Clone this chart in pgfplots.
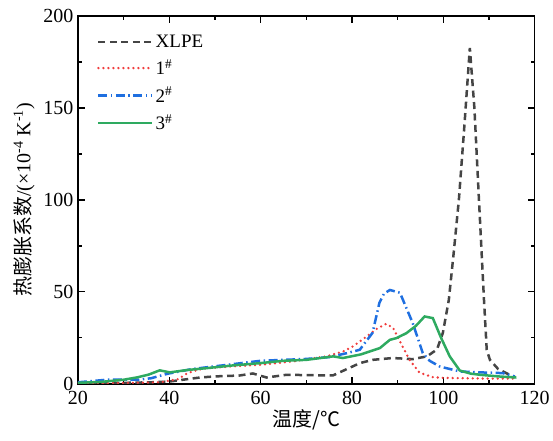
\documentclass[border=0pt]{standalone}
\usepackage{pgfplots}
\pgfplotsset{compat=1.18}
\usepackage{fontspec}
\setmainfont{Liberation Serif}
\newfontfamily\cjk{Noto Sans CJK SC}
\newfontfamily\tnr{Liberation Serif}
\definecolor{cx}{HTML}{454545}
\definecolor{c1}{HTML}{F03C3C}
\definecolor{c2}{HTML}{1F6FE0}
\definecolor{c3}{HTML}{2EAA60}
\begin{document}
\begin{tikzpicture}
\begin{axis}[
  width=457pt, height=368pt, scale only axis,
  xmin=20, xmax=120, ymin=0, ymax=200,
  xtick={20,40,...,120}, ytick={0,50,...,200},
  xticklabels={\textrm{20},\textrm{40},\textrm{60},\textrm{80},\textrm{100},\textrm{120}},
  yticklabels={\textrm{0},\textrm{50},\textrm{100},\textrm{150},\textrm{200}},
  minor xtick={30,50,...,110}, minor ytick={25,75,125,175},
  tick align=inside,
  major tick length=7pt, minor tick length=4pt,
  every tick/.style={black, line width=1.3pt},
  axis line style={line width=1.6pt},
  tick label style={font=\tnr\fontsize{20}{22}\selectfont},
  xticklabel style={yshift=-4pt},
  yticklabel style={xshift=-1pt},
  xlabel={\cjk\fontsize{20}{22}\selectfont 温度/℃},
  ylabel={\fontsize{20}{22}\selectfont{\cjk 热膨胀系数}/(×10\textsuperscript{-4} K\textsuperscript{-1})},
  xlabel style={yshift=2pt},
  ylabel style={yshift=2pt},
  legend style={draw=none, fill=none, at={(0.035,0.96)}, anchor=north west,
    font=\fontsize{19}{22}\selectfont, row sep=7pt},
  legend cell align=left,
  legend image code/.code={\draw[#1] (0pt,0pt) -- (54pt,0pt);},
]
\addplot[cx, line width=2.5pt, dash pattern=on 7pt off 4.5pt] coordinates {
(20,0.3) (30,0.5) (36,0.8) (40,1.2) (43,2.2) (46.7,3.4) (50,4) (55.4,4.5) (58.3,5.6) (61.3,3.4) (65.7,4.9) (70,4.7) (75.8,4.5) (78,7) (81.7,11.2) (84.5,13) (88.9,14) (93.3,13.4) (96.4,14.9) (98.6,18.6) (99.9,27.7) (101.2,45.6) (102.3,72) (103.4,100) (104.6,140) (105.8,182.6) (106.8,150) (107.8,100) (108.9,45.6) (109.5,18.5) (110.2,13) (112,8) (114,5.5) (115.8,3.5)
};
\addlegendentry{XLPE}
\addplot[c1, line width=2.6pt, line cap=round, dash pattern=on 0pt off 5pt] coordinates {
(20,0.2) (30,0.4) (38,0.8) (41.9,2.5) (44,5.8) (46.3,7.6) (48.2,8.5) (54,9.5) (59.8,10.3) (67,12.1) (74.4,14.9) (78,17.5) (80.2,20.3) (83.2,25.7) (85.5,30) (87.5,32.6) (89,30.4) (90.5,23) (92.6,13) (94.8,6) (97.7,3.6) (100,3.2) (105,3) (110,2.8) (115.6,2.8)
};
\addlegendentry{1\textsuperscript{\#}}
\addplot[c2, line width=2.5pt, dash pattern=on 9pt off 3.5pt on 1.5pt off 3.5pt] coordinates {
(20,0.8) (26.3,2.2) (33,2.2) (36,3) (39.7,5.5) (45,8) (50,9.5) (55,11) (60,12.5) (65,13) (70,13.5) (75,14.5) (78.8,16.6) (81.7,18.5) (84.5,27.7) (86,44) (87,49) (88.3,51) (90.5,49.5) (93.3,33) (95.5,16.7) (97,12.5) (99.2,9.4) (103.6,6.7) (108,6.2) (113,5.8) (115.6,4)
};
\addlegendentry{2\textsuperscript{\#}}
\addplot[c3, line width=2.5pt] coordinates {
(20,0.5) (25,1) (30,2.2) (33,3.5) (35.5,5) (37.9,7.3) (40.1,6.2) (44,7.5) (48.2,8.5) (54,10) (59.8,11.2) (65,12.5) (70,13) (75.9,14.9) (78,14) (82,16) (86.1,19.4) (88.3,23.9) (89.7,24.8) (91.9,27.5) (94,31.5) (95.9,36.6) (97.7,35.7) (99.5,25) (101.4,14.9) (103.6,7.2) (106,5.5) (108,4.9) (112,4) (116,3.4)
};
\addlegendentry{3\textsuperscript{\#}}
\end{axis}
\path ([xshift=-78pt,yshift=-57pt]current axis.south west) rectangle ([xshift=18pt,yshift=16pt]current axis.north east);
\end{tikzpicture}
\end{document}
